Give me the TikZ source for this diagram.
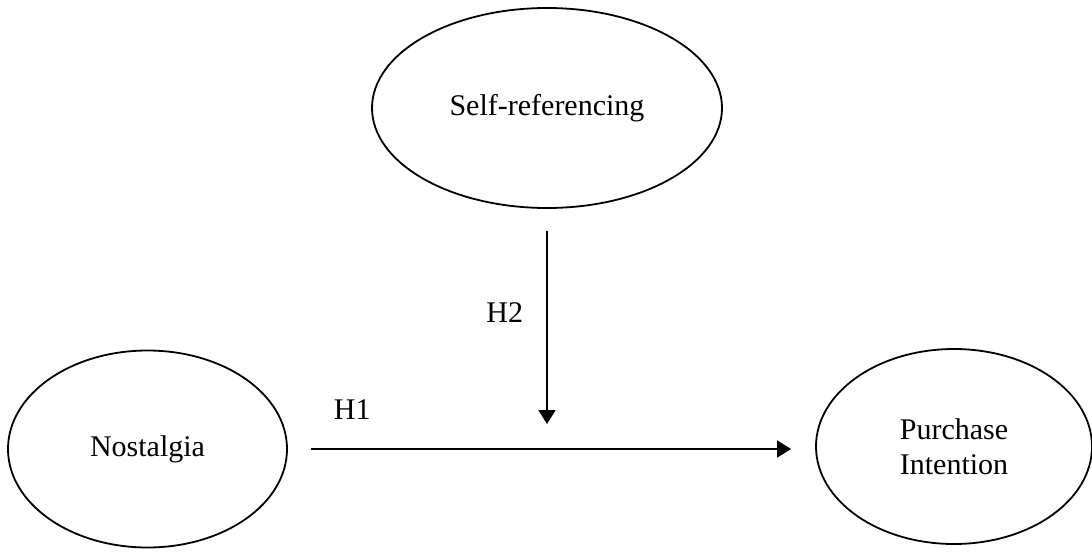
\documentclass[tikz,border=0pt]{standalone}
\usepackage{fontspec}
\setmainfont{Liberation Serif}
\usepackage{tikz}
\usetikzlibrary{arrows.meta,shapes.geometric}

\tikzset{
  construct/.style={draw, ellipse, line width=0.9pt, inner sep=0pt, align=center,
    font=\fontsize{15}{17.5}\selectfont},
  hyp/.style={inner sep=0pt, font=\fontsize{15}{17.5}\selectfont},
  path arrow/.style={-{Triangle[length=7pt,width=8.5pt]}, line width=0.9pt}
}

\begin{document}
\begin{tikzpicture}[x=0.5pt, y=-0.5pt]
  \useasboundingbox (0,0) rectangle (1092,552);

  % Constructs
  \node[construct, minimum width=175pt, minimum height=100pt] (selfref) at (547,108) {Self-referencing};
  \node[construct, minimum width=139.5pt, minimum height=98.5pt] (nost) at (147.5,449) {Nostalgia};
  \node[construct, minimum width=138pt, minimum height=97.5pt] (purch) at (954,446.5) {Purchase\\Intention};

  % Main path end and where the moderator meets it
  \coordinate (target) at (nost.east -| purch.west);
  \coordinate (meet) at (selfref.south |- nost.east);

  % Hypotheses
  \draw[path arrow, shorten <=11.5pt, shorten >=12pt] (nost.east) -- (target)
    node[hyp, pos=0.122, above=14.5pt] {H1};
  \draw[path arrow, shorten <=11pt, shorten >=12.5pt] (selfref.south) -- (meet)
    node[hyp, pos=0.43, left=11.5pt] {H2};
\end{tikzpicture}
\end{document}
